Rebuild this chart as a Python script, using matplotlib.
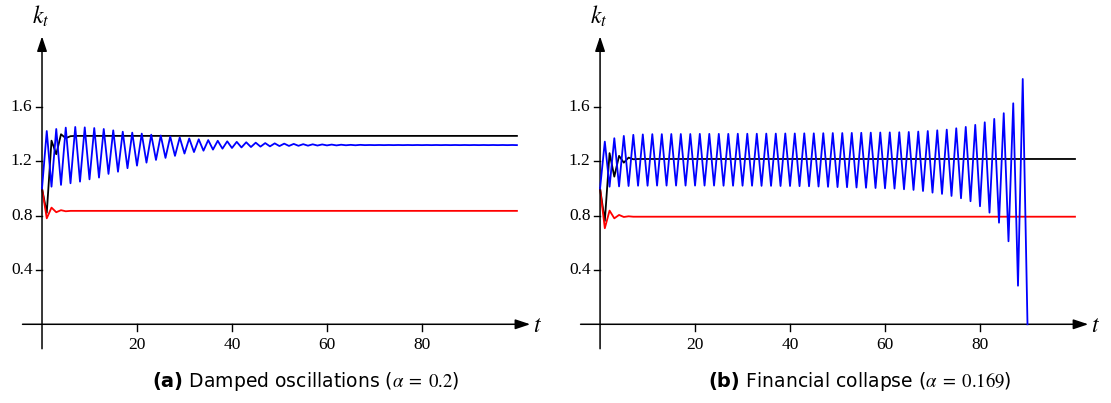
import numpy as np
import matplotlib.pyplot as plt

plt.rcParams['mathtext.fontset'] = 'stix'

# ---------------- data ----------------
# (a) damped oscillations, t = 0..100
black_a = [1.0, 0.82, 1.352, 1.252, 1.399, 1.37, 1.385] + [1.387] * 94
red_a = [1.0, 0.78, 0.859, 0.825, 0.84, 0.832] + [0.835] * 95
blue_a = [1.000, 1.423, 1.013, 1.438, 1.026, 1.448, 1.038, 1.453, 1.050, 1.450,
          1.067, 1.445, 1.080, 1.438, 1.107, 1.428, 1.123, 1.418, 1.149, 1.411,
          1.168, 1.404, 1.190, 1.396, 1.210, 1.390, 1.225, 1.382, 1.240, 1.375,
          1.257, 1.368, 1.268, 1.362, 1.278, 1.356, 1.286, 1.351, 1.293, 1.347,
          1.298, 1.343, 1.302, 1.340, 1.305, 1.337, 1.308, 1.334, 1.310, 1.332,
          1.312, 1.330, 1.313, 1.328, 1.314, 1.326, 1.315, 1.325, 1.316, 1.324,
          1.317, 1.323, 1.317, 1.322, 1.318, 1.321, 1.318, 1.321, 1.319, 1.320,
          1.319] + [1.320, 1.319] * 15

# (b) financial collapse
black_b = [1.0, 0.76, 1.26, 1.087, 1.24, 1.19, 1.227, 1.215] + [1.217] * 93
red_b = [1.0, 0.707, 0.837, 0.78, 0.805, 0.79, 0.795] + [0.792] * 94
blue_b = [1.000, 1.345, 1.013, 1.370, 1.015, 1.387, 1.018, 1.395, 1.020, 1.398,
          1.020, 1.400, 1.021, 1.400, 1.021, 1.401, 1.021, 1.401, 1.021, 1.401,
          1.021, 1.402, 1.021, 1.402, 1.021, 1.402, 1.020, 1.402, 1.020, 1.403,
          1.020, 1.403, 1.020, 1.403, 1.019, 1.404, 1.019, 1.404, 1.018, 1.405,
          1.018, 1.405, 1.017, 1.406, 1.016, 1.406, 1.014, 1.407, 1.012, 1.408,
          1.010, 1.408, 1.009, 1.409, 1.007, 1.410, 1.005, 1.411, 1.003, 1.412,
          1.001, 1.413, 0.999, 1.414, 0.994, 1.416, 0.989, 1.419, 0.981, 1.423,
          0.969, 1.428, 0.960, 1.433, 0.945, 1.443, 0.928, 1.453, 0.906, 1.468,
          0.869, 1.487, 0.822, 1.512, 0.748, 1.554, 0.611, 1.627, 0.284, 1.806,
          0.0]

yticks = [0.4, 0.8, 1.2, 1.6]
xticks = [20, 40, 60, 80]

panels = [
    (0.009, black_a, red_a, blue_a, '(a)', r' Damped oscillations ($\alpha \;=\; 0.2$)', 306),
    (0.5113, black_b, red_b, blue_b, '(b)', r' Financial collapse ($\alpha \;=\; 0.169$)', 860),
]

fig = plt.figure(figsize=(11.11, 4.03), dpi=100)
renderer = fig.canvas.get_renderer()

for left, blk, red, blu, tag, caption, cx in panels:
    ax = fig.add_axes([left, 0.1067, 0.4815, 0.881])
    ax.set_xlim(-6.74, 105.9)
    ax.set_ylim(-0.263, 2.351)
    ax.axis('off')

    ax.plot(np.arange(len(blk)), blk, color='black', lw=1.3, zorder=3)
    ax.plot(np.arange(len(red)), red, color='#ff0000', lw=1.3, zorder=3)
    ax.plot(np.arange(len(blu)), blu, color='#0000ff', lw=1.3, zorder=4)

    # axes with arrow heads
    ax.annotate('', xy=(102.8, 0), xytext=(-4.1, 0),
                arrowprops=dict(arrowstyle='-|>,head_length=0.9,head_width=0.3',
                                color='black', lw=1.1, shrinkA=0, shrinkB=0))
    ax.annotate('', xy=(0, 2.12), xytext=(0, -0.18),
                arrowprops=dict(arrowstyle='-|>,head_length=0.9,head_width=0.3',
                                color='black', lw=1.1, shrinkA=0, shrinkB=0))

    for x in xticks:
        ax.plot([x, x], [0, -0.05], color='black', lw=1.0)
        ax.text(x, -0.09, str(x), ha='center', va='top',
                family='Liberation Serif', fontsize=12.5)
    for y in yticks:
        ax.plot([-1.25, 0], [y, y], color='black', lw=1.0)
        ax.text(-2.0, y, f'{y:.1f}', ha='right', va='center',
                family='Liberation Serif', fontsize=12.5)

    ax.text(-0.3, 2.27, r'$k_t$', ha='center', va='center', fontsize=17)
    ax.text(104.3, -0.005, r'$t$', ha='center', va='center', fontsize=17)

    # caption: bold tag + normal text, centred on cx (pixels)
    t1 = fig.text(0, 0.04, tag, ha='left', va='baseline', fontsize=14,
                  fontweight='bold', family='DejaVu Sans')
    t2 = fig.text(0, 0.04, caption, ha='left', va='baseline', fontsize=13.5,
                  family='DejaVu Sans')
    w1 = t1.get_window_extent(renderer).width
    w2 = t2.get_window_extent(renderer).width
    x0 = cx - (w1 + w2) / 2
    t1.set_x(x0 / 1111)
    t2.set_x((x0 + w1) / 1111)

fig.savefig('out.png', dpi=100)
